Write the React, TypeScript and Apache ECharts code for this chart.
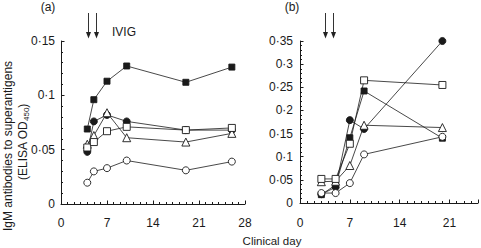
import React, { useEffect, useRef } from 'react';
import * as echarts from 'echarts';

// Panel (a)
const daysA = [4, 5, 7, 10, 19, 26];
const aFilledSquare = [0.069, 0.096, 0.113, 0.127, 0.112, 0.126];
const aFilledCircle = [0.048, 0.076, 0.082, 0.076, 0.068, 0.068];
const aOpenTriangle = [0.055, 0.063, 0.084, 0.061, 0.057, 0.065];
const aOpenSquare = [0.052, 0.057, 0.067, 0.071, 0.068, 0.07];
const aOpenCircle = [0.0196, 0.03, 0.033, 0.04, 0.031, 0.039];

// Panel (b)
const daysB = [3, 5, 7, 9, 20];
const bFilledCircle = [0.019, 0.034, 0.179, 0.16, 0.35];
const bFilledSquare = [0.018, 0.039, 0.141, 0.242, 0.14];
const bOpenTriangle = [0.046, 0.047, 0.081, 0.168, 0.163];
const bOpenSquare = [0.052, 0.052, 0.128, 0.265, 0.255];
const bOpenCircle = [0.0215, 0.0215, 0.043, 0.105, 0.143];

// IVIG arrows (clinical day)
const arrowDaysA = [4.1, 5.3];
const arrowDaysB = [3.5, 4.6];

const FONT = "'Liberation Sans', Arial, sans-serif";
const INK = '#1a1a1a';

const pair = (xs: number[], ys: number[]) => xs.map((x, i) => [x, ys[i]]);

const yFmt = (v: number) => {
  if (v === 0) return '0';
  return String(Number(v.toFixed(2))).replace('.', '·');
};

function makeSeries(idx: number, days: number[], data: number[][]) {
  const styles = [
    { symbol: 'circle', size: 7, fill: INK },
    { symbol: 'rect', size: 6, fill: INK },
    { symbol: 'triangle', size: 8, fill: '#fff' },
    { symbol: 'rect', size: 7, fill: '#fff' },
    { symbol: 'circle', size: 7, fill: '#fff' },
  ];
  return data.map((ys, k) => ({
    type: 'line',
    xAxisIndex: idx,
    yAxisIndex: idx,
    data: pair(days, ys),
    symbol: styles[k].symbol,
    symbolSize: styles[k].size,
    showAllSymbol: true,
    clip: false,
    lineStyle: { color: INK, width: 0.8 },
    itemStyle: { color: styles[k].fill, borderColor: INK, borderWidth: 0.9 },
    z: 2 + k,
  }));
}

const axisCommon = {
  axisLine: { show: true, lineStyle: { color: INK, width: 1 } },
  splitLine: { show: false },
  axisLabel: { color: INK, fontSize: 12, fontFamily: FONT },
};

export default function App() {
  const ref = useRef<HTMLDivElement>(null);
  useEffect(() => {
    const chart = echarts.init(ref.current!, null, { renderer: 'svg' });
    const option: any = {
      animation: false,
      backgroundColor: '#fff',
      grid: [
        { left: 61, top: 41, width: 184, height: 163 },
        { left: 300, top: 41, width: 180, height: 162 },
      ],
      xAxis: [
        {
          ...axisCommon,
          gridIndex: 0,
          type: 'value',
          min: 0,
          max: 28,
          interval: 7,
          offset: 5,
          axisTick: { inside: true, length: 3.5, lineStyle: { color: INK } },
          minorTick: { show: true, splitNumber: 7, length: 2, lineStyle: { color: INK } },
          axisLabel: { ...axisCommon.axisLabel, margin: 8 },
        },
        {
          ...axisCommon,
          gridIndex: 1,
          type: 'value',
          min: 0,
          max: 25,
          interval: 7,
          offset: 6,
          axisTick: { inside: true, length: 3.5, lineStyle: { color: INK } },
          minorTick: { show: true, splitNumber: 7, length: 2, lineStyle: { color: INK } },
          axisLabel: {
            ...axisCommon.axisLabel,
            margin: 8,
            formatter: (v: number) => (v % 7 === 0 ? String(v) : ''),
          },
        },
      ],
      yAxis: [
        {
          ...axisCommon,
          gridIndex: 0,
          type: 'value',
          min: 0,
          max: 0.15,
          interval: 0.05,
          axisTick: { inside: true, length: 3.5, lineStyle: { color: INK } },
          minorTick: { show: true, splitNumber: 5, length: 2, lineStyle: { color: INK } },
          axisLabel: { ...axisCommon.axisLabel, margin: 6, formatter: yFmt },
        },
        {
          ...axisCommon,
          gridIndex: 1,
          type: 'value',
          min: 0,
          max: 0.35,
          interval: 0.05,
          axisTick: { inside: true, length: 3.5, lineStyle: { color: INK } },
          minorTick: { show: true, splitNumber: 5, length: 2, lineStyle: { color: INK } },
          axisLabel: { ...axisCommon.axisLabel, margin: 7, formatter: yFmt },
        },
      ],
      series: [
        ...makeSeries(0, daysA, [aFilledCircle, aFilledSquare, aOpenTriangle, aOpenSquare, aOpenCircle]),
        ...makeSeries(1, daysB, [bFilledCircle, bFilledSquare, bOpenTriangle, bOpenSquare, bOpenCircle]),
      ],
    };
    chart.setOption(option);

    const arrows: any[] = [];
    const addArrows = (gridIndex: number, days: number[]) => {
      days.forEach((d) => {
        const p = chart.convertToPixel({ gridIndex } as any, [d, 0]) as number[];
        const x = Math.round(p[0]) + 0.5;
        arrows.push({
          type: 'line',
          shape: { x1: x, y1: 13, x2: x, y2: 33 },
          style: { stroke: '#333', lineWidth: 1 },
        });
        arrows.push({
          type: 'polygon',
          shape: { points: [[x - 2.5, 32], [x + 2.5, 32], [x, 38.5]] },
          style: { fill: '#222' },
        });
      });
    };
    addArrows(0, arrowDaysA);
    addArrows(1, arrowDaysB);

    const txt = (text: string, x: number, y: number, extra: any = {}) => ({
      type: 'text',
      x,
      y,
      style: {
        text,
        fill: INK,
        font: `12px ${FONT}`,
        textAlign: 'center',
        textVerticalAlign: 'middle',
        ...extra,
      },
    });

    chart.setOption({
      graphic: [
        ...arrows,
        txt('(a)', 48, 7),
        txt('(b)', 292, 7),
        txt('IVIG', 112, 32, { textAlign: 'left' }),
        txt('Clinical day', 272, 241, { font: `11.5px ${FONT}` }),
        {
          type: 'text',
          x: 8,
          y: 146,
          rotation: Math.PI / 2,
          style: {
            text: 'IgM antibodies to superantigens',
            fill: INK,
            font: `12px ${FONT}`,
            textAlign: 'center',
            textVerticalAlign: 'middle',
          },
        },
        {
          type: 'text',
          x: 23,
          y: 142,
          rotation: Math.PI / 2,
          style: {
            text: '{a|(ELISA OD}{s|450}{a|)}',
            fill: INK,
            textAlign: 'center',
            textVerticalAlign: 'middle',
            rich: {
              a: { fontSize: 12, fontFamily: FONT, fill: INK, lineHeight: 14, verticalAlign: 'middle' },
              s: { fontSize: 8, fontFamily: FONT, fill: INK, lineHeight: 14, verticalAlign: 'bottom', padding: [5, 0, 0, 0] },
            },
          },
        },
      ],
    });

    return () => chart.dispose();
  }, []);
  return (
    <div
      ref={ref}
      style={{ position: 'absolute', left: 0, top: 0, width: 481, height: 248, background: '#fff' }}
    />
  );
}
